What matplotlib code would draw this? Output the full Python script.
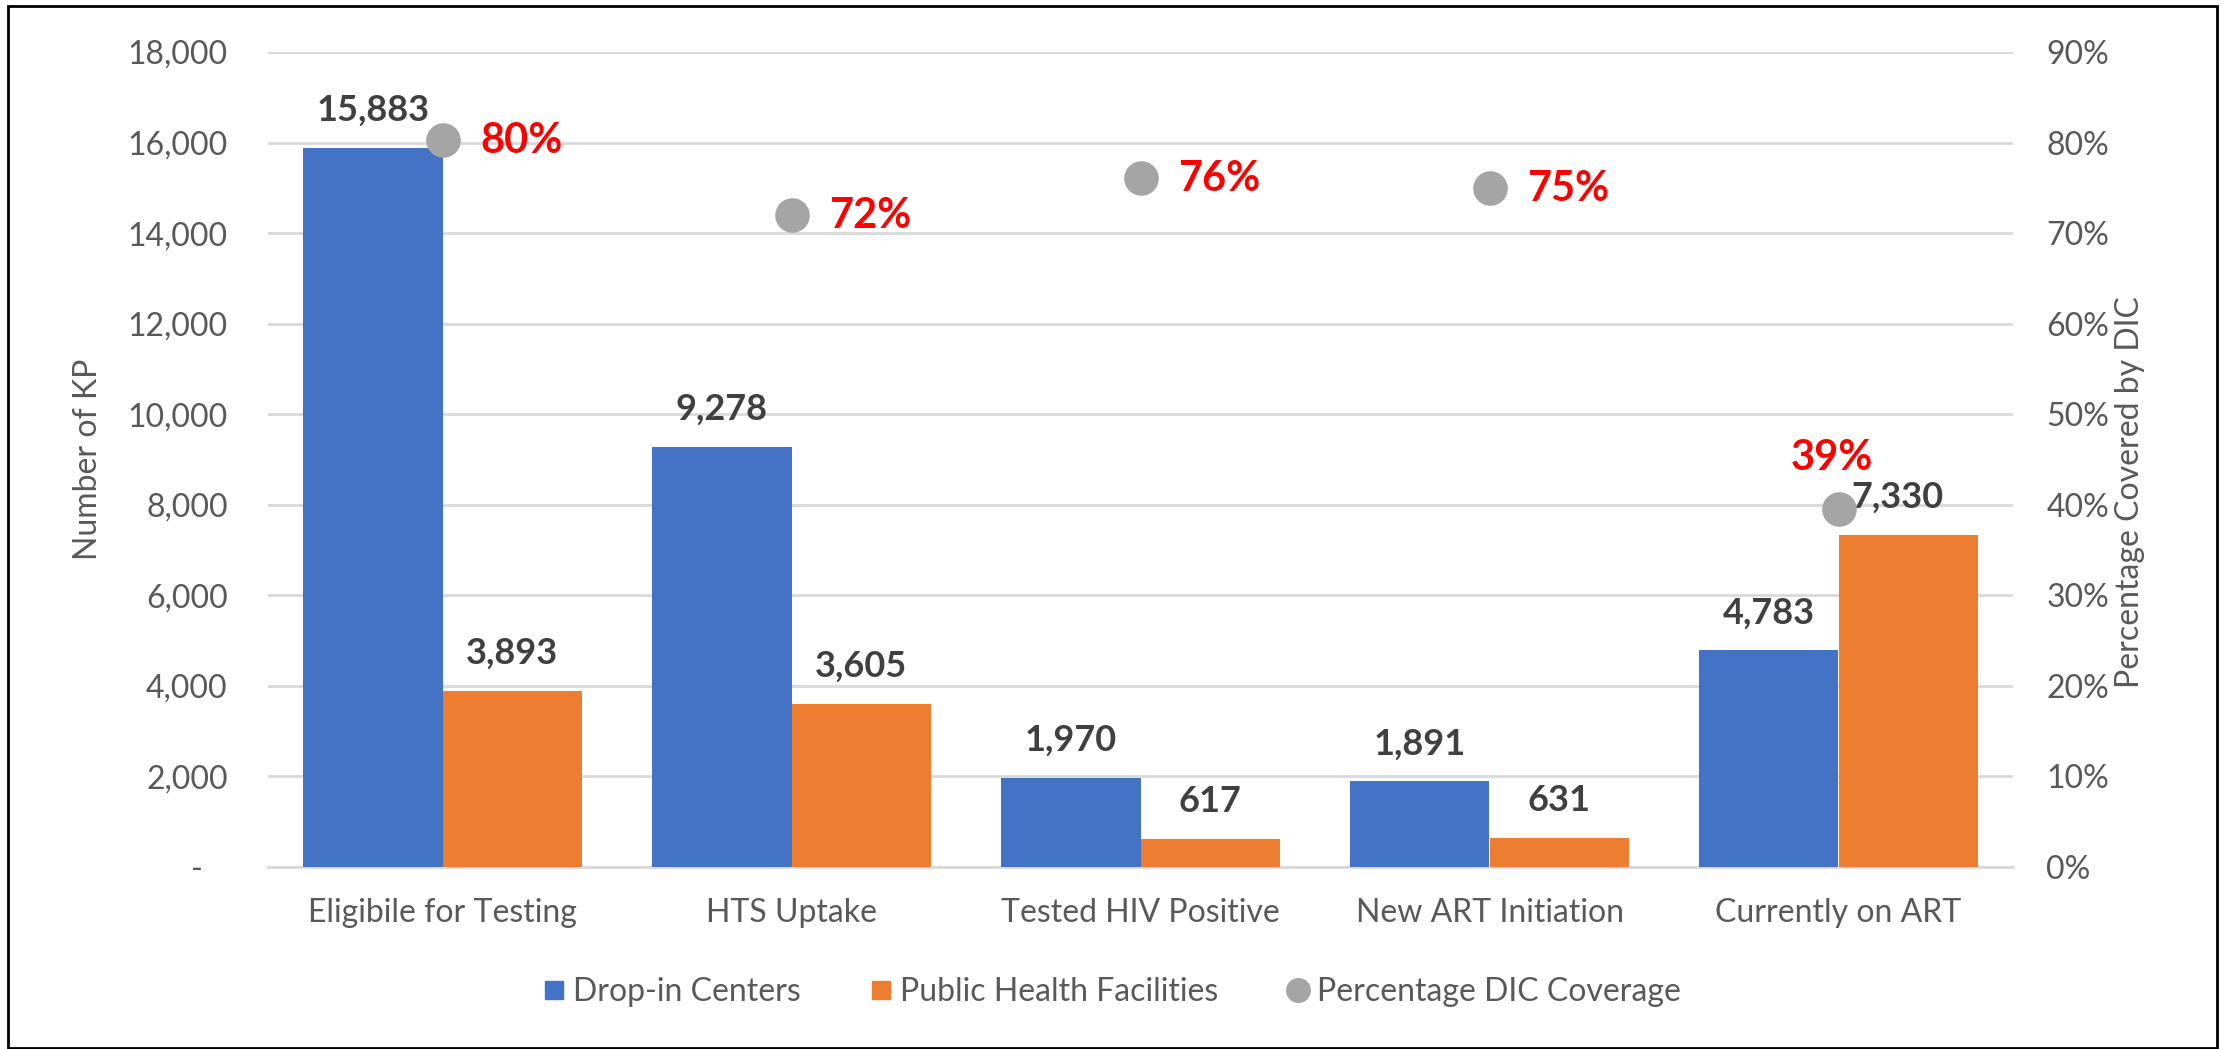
import matplotlib.pyplot as plt
from matplotlib.lines import Line2D
from matplotlib.patches import Rectangle
from matplotlib.ticker import FuncFormatter

plt.rcParams['font.family'] = ['Lato', 'DejaVu Sans']

# data
categories = ["Eligibile for Testing", "HTS Uptake", "Tested HIV Positive",
              "New ART Initiation", "Currently on ART"]
dic = [15883, 9278, 1970, 1891, 4783]
phf = [3893, 3605, 617, 631, 7330]
coverage = [0.803, 0.720, 0.761, 0.750, 0.395]
coverage_labels = ["80%", "72%", "76%", "75%", "39%"]

blue = "#4472C4"
orange = "#ED7D31"
grey = "#A5A5A5"
tick_col = "#595959"
lab_col = "#404040"
fs = 23

fig = plt.figure(figsize=(22.26, 10.49), dpi=100)
ax = fig.add_axes([268 / 2226, 1 - 867 / 1049, 1745 / 2226, 815 / 1049])
ax2 = ax.twinx()

x = list(range(len(categories)))
w = 0.4
ax.bar([i - w / 2 for i in x], dic, width=w, color=blue, zorder=3)
ax.bar([i + w / 2 for i in x], phf, width=w, color=orange, zorder=3)

for i in x:
    ax.annotate(f"{dic[i]:,}", (i - w / 2, dic[i]), xytext=(0, 27),
                textcoords="offset points", ha="center", va="center",
                fontsize=26, fontweight="bold", color=lab_col)
    dx = -8 if i == 4 else 0
    ax.annotate(f"{phf[i]:,}", (i + w / 2, phf[i]), xytext=(dx, 27),
                textcoords="offset points", ha="center", va="center",
                fontsize=26, fontweight="bold", color=lab_col)

ax2.scatter(x, coverage, s=620, color=grey, zorder=4, linewidths=0)
for i in x:
    if i == 4:
        ax2.annotate(coverage_labels[i], (i, coverage[i]), xytext=(-5, 37),
                     textcoords="offset points", ha="center", va="center",
                     fontsize=30, fontweight="bold", color="#FF0000")
    else:
        ax2.annotate(coverage_labels[i], (i, coverage[i]), xytext=(27, -1),
                     textcoords="offset points", ha="left", va="center",
                     fontsize=30, fontweight="bold", color="#FF0000")

ax.set_xlim(-0.5, len(categories) - 0.5)
ax.set_ylim(0, 18000)
ax.set_yticks(range(0, 18001, 2000))
ax.yaxis.set_major_formatter(FuncFormatter(lambda v, p: "-   " if v == 0 else f"{int(v):,}"))
ax2.set_ylim(0, 0.9)
ax2.set_yticks([i / 10 for i in range(10)])
ax2.yaxis.set_major_formatter(FuncFormatter(lambda v, p: f"{round(v * 100)}%"))

ax.set_xticks(x)
ax.set_xticklabels(categories)
ax.grid(axis="y", color="#D9D9D9", linewidth=2, zorder=0)
ax.set_axisbelow(True)
for a in (ax, ax2):
    for s in a.spines.values():
        s.set_visible(False)
ax.spines["bottom"].set_visible(True)
ax.spines["bottom"].set_color("#D9D9D9")
ax.spines["bottom"].set_linewidth(2)

ax.tick_params(axis="y", length=0, pad=29, labelsize=fs, labelcolor=tick_col)
ax.tick_params(axis="x", length=0, pad=22, labelsize=fs, labelcolor=tick_col)
ax2.tick_params(axis="y", length=0, pad=24, labelsize=fs, labelcolor=tick_col)

ax.set_ylabel("Number of KP", fontsize=fs, color=tick_col, va="center")
ax.yaxis.set_label_coords(-0.103, 0.5)
ax2.set_ylabel("Percentage Covered by DIC", fontsize=fs, color=tick_col, va="center",
               rotation=90)
ax2.yaxis.set_label_coords(1.067, 0.46)

handles = [
    Line2D([], [], marker="s", linestyle="none", color=blue, markersize=13),
    Line2D([], [], marker="s", linestyle="none", color=orange, markersize=13),
    Line2D([], [], marker="o", linestyle="none", color=grey, markersize=17),
]
fig.legend(handles, ["Drop-in Centers", "Public Health Facilities", "Percentage DIC Coverage"],
           loc="center", bbox_to_anchor=(0.5, 1 - 992 / 1049), ncol=3, frameon=False,
           fontsize=fs, labelcolor=tick_col, handlelength=0.6, handletextpad=0.3,
           columnspacing=2.2)

# outer frame
fig.patches.append(Rectangle((8 / 2226, 1 / 1049), 2209 / 2226, 1042 / 1049,
                             transform=fig.transFigure, fill=False,
                             edgecolor="black", linewidth=2))

plt.savefig("out.png", dpi=100)
